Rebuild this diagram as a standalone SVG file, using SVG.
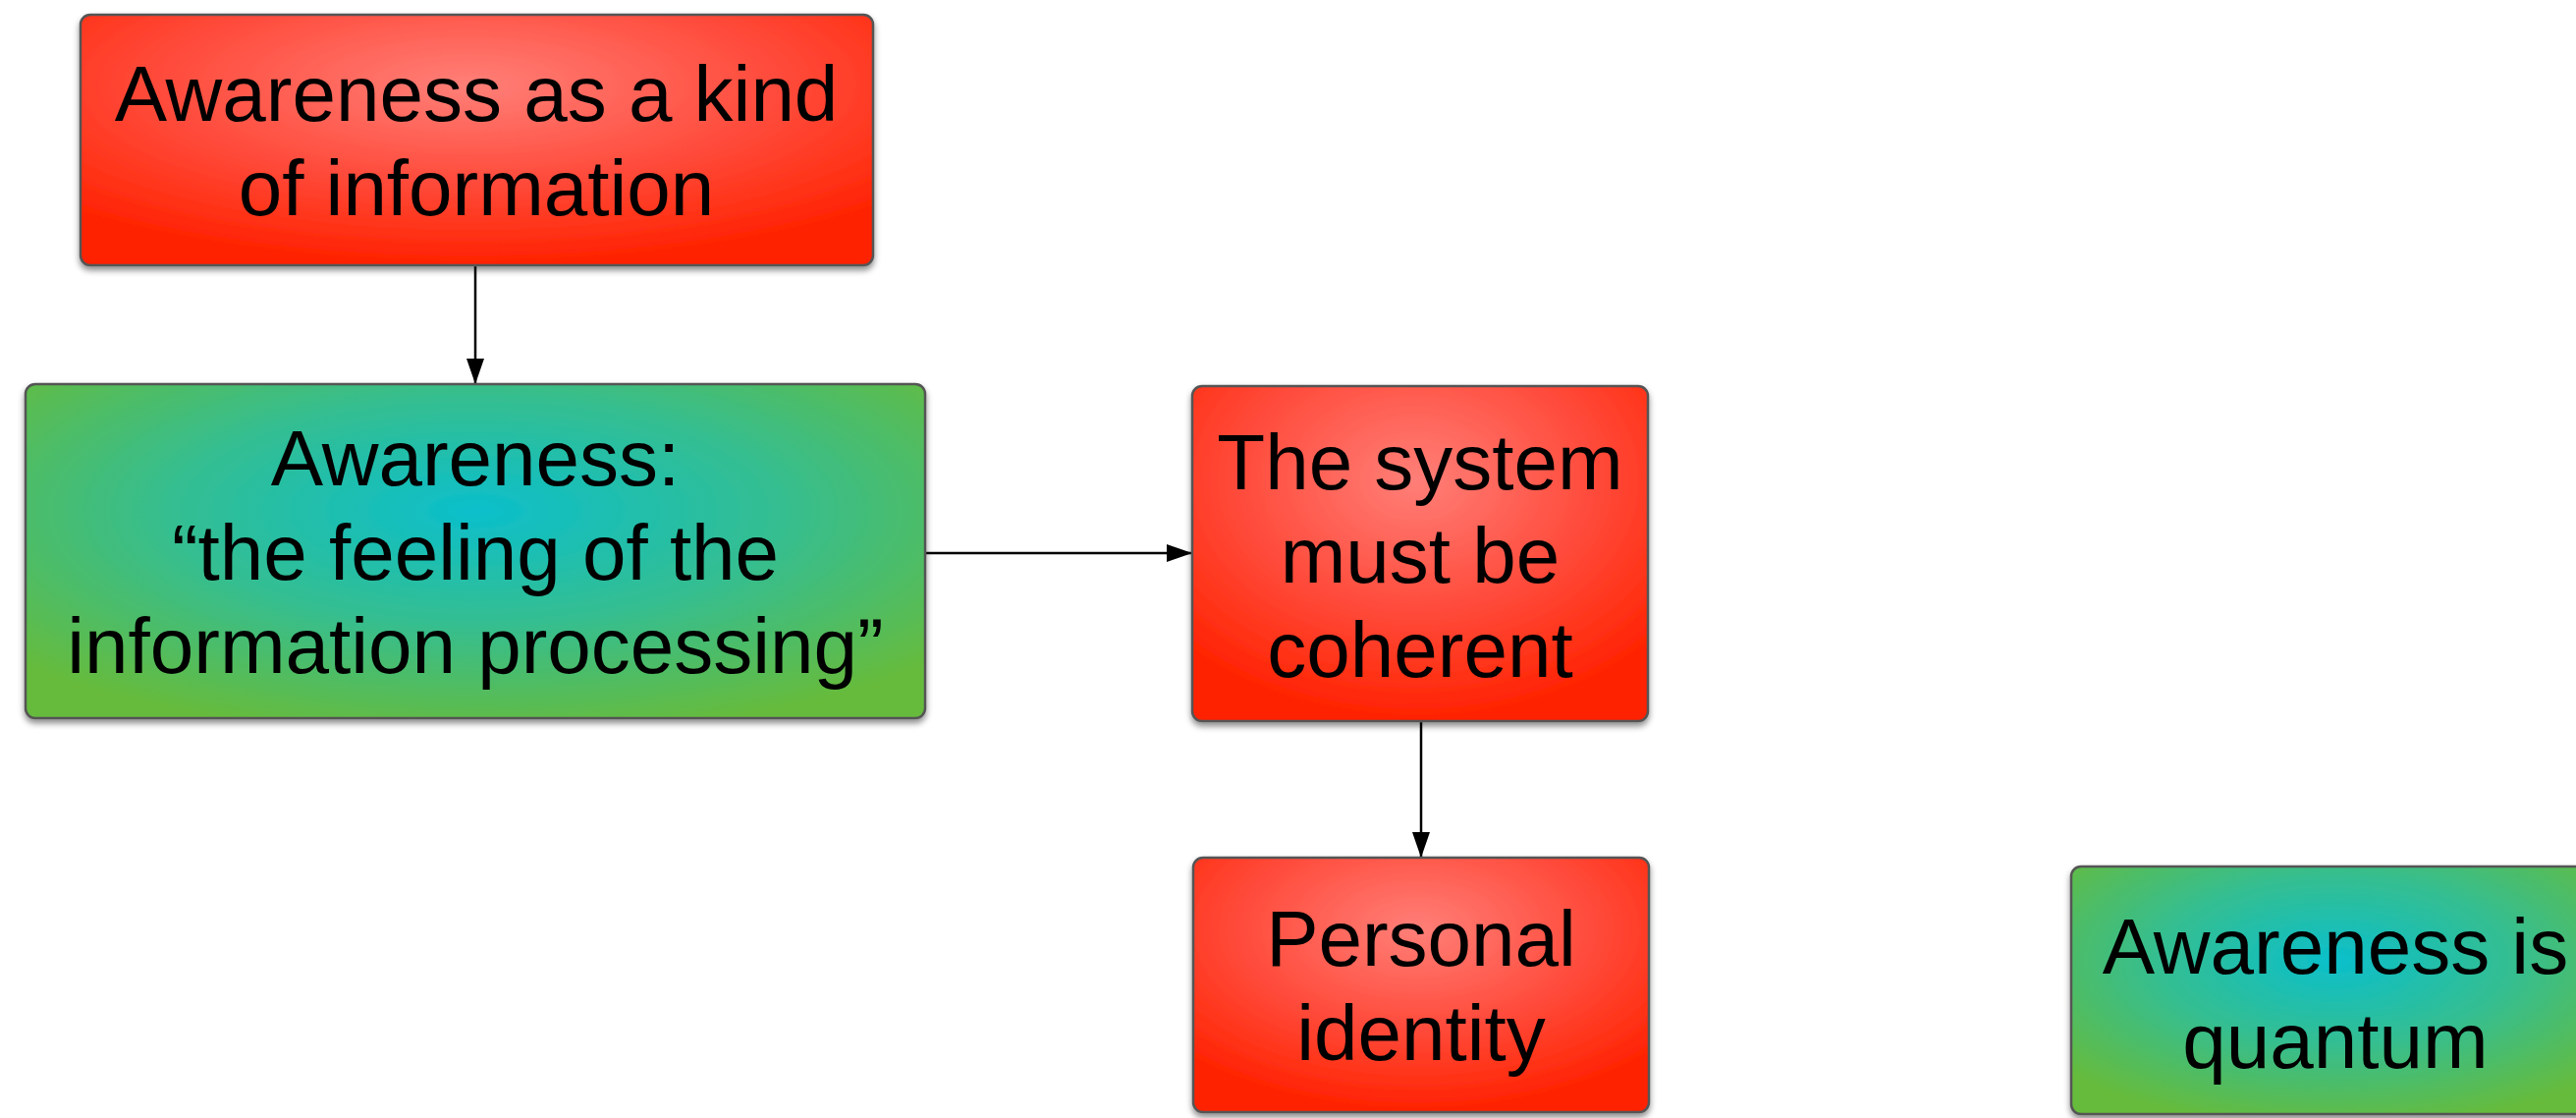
<svg xmlns="http://www.w3.org/2000/svg" width="2623" height="1138" viewBox="0 0 2623 1138">
  <defs>
    <radialGradient id="gRed" cx="0.49" cy="0.28" r="0.72">
      <stop offset="0" stop-color="#ff7f78"/>
      <stop offset="0.55" stop-color="#ff4a3a"/>
      <stop offset="1" stop-color="#ff2200"/>
    </radialGradient>
    <radialGradient id="gGreen" cx="0.5" cy="0.38" r="0.68">
      <stop offset="0" stop-color="#0bbfcb"/>
      <stop offset="0.5" stop-color="#35be90"/>
      <stop offset="1" stop-color="#66bb3c"/>
    </radialGradient>
    <filter id="shadow" x="-5%" y="-5%" width="110%" height="120%">
      <feDropShadow dx="0" dy="4" stdDeviation="3" flood-color="#000" flood-opacity="0.45"/>
    </filter>
    <marker id="arrow" markerUnits="userSpaceOnUse" markerWidth="28" markerHeight="20" refX="26" refY="9" orient="auto">
      <path d="M0,0 L26,9 L0,18 Z" fill="#000"/>
    </marker>
  </defs>
  <style>
    .box { stroke: #555; stroke-width: 2.5; filter: url(#shadow); }
    .red { fill: url(#gRed); }
    .green { fill: url(#gGreen); }
    .label { font-family: "Liberation Sans", Arial, sans-serif; font-size: 80px; fill: #000; text-anchor: middle; }
    .conn { stroke: #000; stroke-width: 2.5; fill: none; marker-end: url(#arrow); }
  </style>
  <rect width="2623" height="1138" fill="#fff"/>

  <!-- connectors -->
  <g id="connectors">
    <line class="conn" x1="484" y1="270" x2="484" y2="391"/>
    <line class="conn" x1="942" y1="563" x2="1214" y2="563"/>
    <line class="conn" x1="1447" y1="734" x2="1447" y2="873"/>
  </g>

  <g id="node-info-kind">
    <rect class="box red" x="82" y="15" width="807" height="255" rx="10"/>
    <text class="label" x="485" y="123">Awareness as a kind</text>
    <text class="label" x="485" y="219">of information</text>
  </g>

  <g id="node-feeling">
    <rect class="box green" x="26" y="391" width="916" height="340" rx="10"/>
    <text class="label" x="484" y="494">Awareness:</text>
    <text class="label" x="484" y="590">“the feeling of the</text>
    <text class="label" x="484" y="685">information processing”</text>
  </g>

  <g id="node-coherent">
    <rect class="box red" x="1214" y="393" width="464" height="341" rx="10"/>
    <text class="label" x="1446" y="498">The system</text>
    <text class="label" x="1446" y="593">must be</text>
    <text class="label" x="1446" y="689">coherent</text>
  </g>

  <g id="node-identity">
    <rect class="box red" x="1215" y="873" width="464" height="259" rx="10"/>
    <text class="label" x="1447" y="983">Personal</text>
    <text class="label" x="1447" y="1079">identity</text>
  </g>

  <g id="node-quantum">
    <rect class="box green" x="2109" y="882" width="538" height="252" rx="10"/>
    <text class="label" x="2378" y="991">Awareness is</text>
    <text class="label" x="2378" y="1087">quantum</text>
  </g>
</svg>
